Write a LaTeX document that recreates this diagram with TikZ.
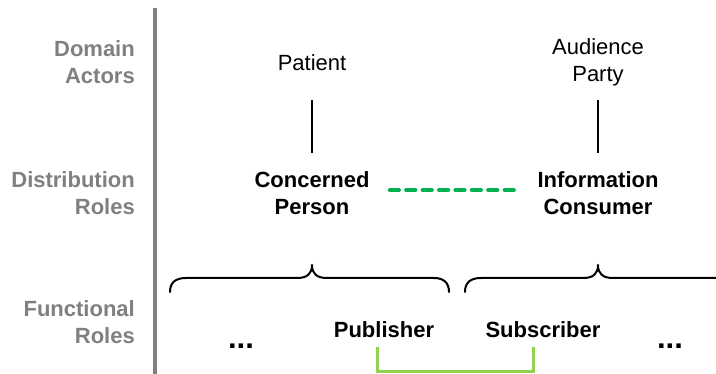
\documentclass[tikz,border=0pt]{standalone}
\usepackage{fontspec}
\setmainfont{Liberation Sans}
\definecolor{labelgray}{RGB}{128,128,128}
\definecolor{linkgreen}{RGB}{0,176,80}
\definecolor{pairgreen}{RGB}{146,208,80}
\begin{document}
\begin{tikzpicture}[x=1pt,y=-1pt,
  txt/.style={font=\fontsize{22}{27}\selectfont, align=center, inner sep=0pt},
  rowlabel/.style={txt, font=\fontsize{22}{27}\selectfont\bfseries, text=labelgray, align=right, anchor=east},
  role/.style={txt, font=\fontsize{22}{27}\selectfont\bfseries},
  more/.style={inner sep=0pt, font=\fontsize{31}{32}\selectfont\bfseries},
  brace/.style={line width=2pt, line cap=round, line join=round},
  link/.style={line width=1.6pt}]
\useasboundingbox (0,0) rectangle (716,374);

% row separator
\draw[labelgray, line width=3.5pt] (155,8) -- (155,374);

% row labels
\node[rowlabel] (lda) at (135,62.5) {Domain\\Actors};
\node[rowlabel] (ldr) at (135,193) {Distribution\\Roles};
\node[rowlabel] (lfr) at (135,322.5) {Functional\\Roles};

% domain actors
\node[txt] (patient) at (312,62.5) {Patient};
\node[txt] (audience) at (598,62.5) {Audience\\Party};

% distribution roles
\node[role] (concerned) at (312,193) {Concerned\\Person};
\node[role] (consumer) at (598,193) {Information\\Consumer};

% actor-to-role links
\coordinate (pt) at (312,100); \coordinate (pb) at (312,153);
\coordinate (at) at (598,100); \coordinate (ab) at (598,153);
\draw[link] (pt) -- (pb);
\draw[link] (at) -- (ab);

% association between distribution roles
\coordinate (dl) at (390,190); \coordinate (dr) at (516,190);
\draw[linkgreen, line width=4.5pt, line cap=round, dash pattern=on 8.8pt off 7.6pt] (dl) -- (dr);

% braces grouping functional roles
\draw[brace] (170,292) .. controls (170,283) and (175,278) .. (186,278)
  -- (297,278) .. controls (307,278) and (312,274) .. (312,265)
  .. controls (312,274) and (317,278) .. (327,278)
  -- (434,278) .. controls (444,278) and (449,283) .. (449,292);
\draw[brace] (465,292) .. controls (465,283) and (470,278) .. (481,278)
  -- (583,278) .. controls (593,278) and (598,274) .. (598,265)
  .. controls (598,274) and (603,278) .. (613,278)
  -- (720,278);

% functional roles
\node[role] (publisher) at (384,329.5) {Publisher};
\node[role] (subscriber) at (543,329.5) {Subscriber};
\node[more] (moreL) at (241,346) {...};
\node[more] (moreR) at (670,346) {...};

% publisher/subscriber pairing
\coordinate (ps) at (377,347); \coordinate (ss) at (533,347);
\draw[pairgreen, line width=3pt] (ps) -- (377,372) -- (533,372) -- (ss);
\end{tikzpicture}
\end{document}
